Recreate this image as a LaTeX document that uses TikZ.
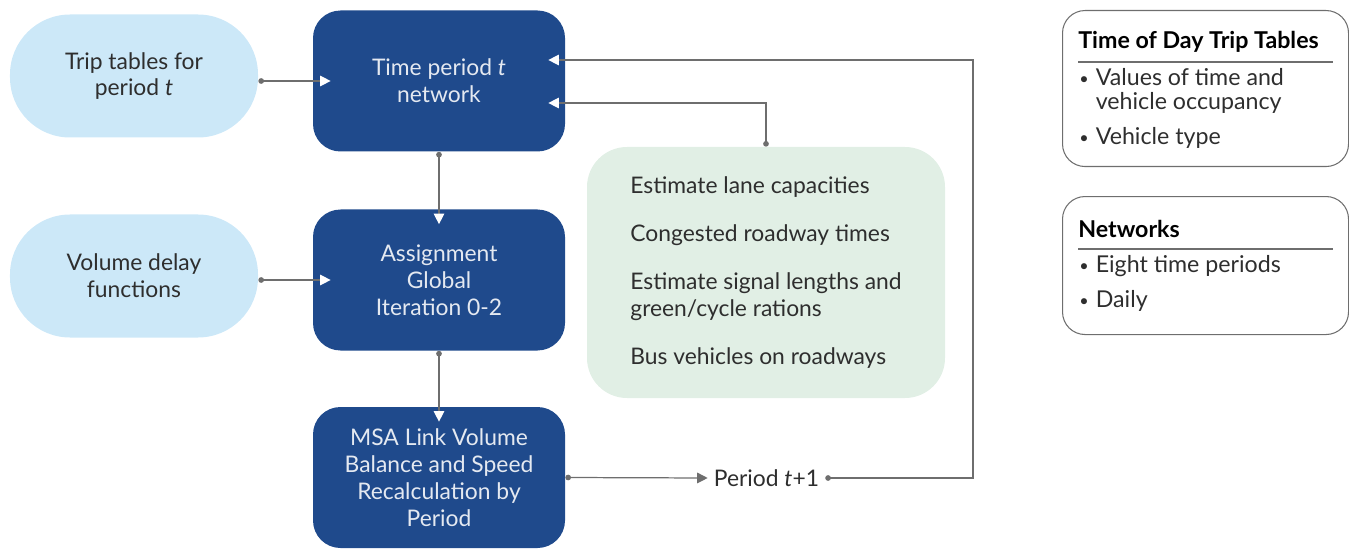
\documentclass[tikz,border=0pt]{standalone}
\usepackage{fontspec}
\setmainfont{Lato}
\usepackage{xcolor}
\usepackage{graphicx}
\usetikzlibrary{arrows.meta,positioning}

\definecolor{navybox}{HTML}{1F4A8C}
\definecolor{skypill}{HTML}{CCE8F8}
\definecolor{mintbox}{HTML}{E1EFE5}
\definecolor{linegray}{HTML}{6E6E6E}
\definecolor{inktext}{HTML}{2E2E2E}
\newcommand{\boxfont}{\fontsize{13}{15.3}\selectfont}
\newcommand{\sidefont}{\fontsize{13.2}{13.6}\selectfont}
\newcommand{\dotitem}{\raisebox{0.5pt}{\scalebox{0.7}{\textbullet}}}

\begin{document}
\begin{tikzpicture}[
    pill/.style={fill=skypill, rounded corners=1.2cm, minimum width=4.96cm,
      minimum height=2.46cm, align=center, text=inktext, font=\boxfont},
    stage/.style={fill=navybox, rounded corners=0.55cm, minimum width=5.04cm,
      minimum height=2.82cm, align=center, text=white!88!navybox, font=\boxfont},
    note/.style={fill=mintbox, rounded corners=0.8cm, minimum width=7.16cm,
      minimum height=5.02cm, align=left, text=inktext, font=\boxfont},
    sidebox/.style={draw=linegray, line width=0.6pt, rounded corners=0.45cm,
      minimum width=5.72cm, anchor=north west},
    sidehead/.style={anchor=west, inner sep=0pt, text=black, font=\sidefont\bfseries},
    sidelist/.style={anchor=west, inner sep=0pt, align=left, text=inktext, font=\sidefont},
    conn/.style={draw=linegray, line width=0.7pt},
    into/.style={conn, {Circle[length=3.2pt]}-{Triangle[length=6pt,width=6pt,color=white]}},
    onto/.style={conn, {Circle[length=3.2pt]}-{Triangle[length=6pt,width=6pt]}}
  ]
  \useasboundingbox (0,0) rectangle (26.98,10.96);

  % inputs
  \node[pill] (trip) at (2.68,9.44) {Trip tables for\\period \textit{t}};
  \node[pill] (vdf) at (2.68,5.44) {Volume delay\\functions};

  % assignment steps
  \node[stage] (timenet) at (8.78,9.34) {Time period \textit{t}\\network};
  \node[stage] (assign) at (8.78,5.36) {Assignment\\Global\\Iteration 0-2};
  \node[stage] (msa) at (8.78,1.41) {MSA Link Volume\\Balance and Speed\\Recalculation by\\Period};

  \node[note] (mint) at (15.32,5.51) {Estimate lane capacities\\[12pt]
    Congested roadway times\\[12pt]
    Estimate signal lengths and\\green/cycle rations\\[12pt]
    Bus vehicles on roadways};

  \node[text=inktext, font=\boxfont] (period) at (15.33,1.40) {Period \textit{t}+1};
  \coordinate (loop) at (19.46,1.40);

  % side legends
  \node[sidebox, minimum height=3.12cm] (tod) at (21.24,10.76) {};
  \node[sidehead] (todhead) at (21.56,10.12) {Time of Day Trip Tables};
  \draw[linegray, line width=0.6pt] (21.56,9.72) -- (26.66,9.72);
  \node[sidelist] (todlist) at (21.58,8.76) {\begin{tabular}{@{}l@{\hspace{4pt}}l@{}}
    \dotitem & Values of time and\\ & vehicle occupancy\\[5.7pt]
    \dotitem & Vehicle type\end{tabular}};

  \node[sidebox, minimum height=2.76cm] (nets) at (21.24,7.04) {};
  \node[sidehead] (netshead) at (21.56,6.38) {Networks};
  \draw[linegray, line width=0.6pt] (21.56,5.98) -- (26.66,5.98);
  \node[sidelist] (netslist) at (21.58,5.26) {\begin{tabular}{@{}l@{\hspace{4pt}}l@{}}
    \dotitem & Eight time periods\\[5.7pt]
    \dotitem & Daily\end{tabular}};

  % connectors
  \draw[into] (timenet.west -| trip.east) -- ([xshift=0.36cm]timenet.west);
  \draw[into] (assign.west -| vdf.east) -- ([xshift=0.36cm]assign.west);
  \draw[into] (timenet.south) -- ([yshift=-0.3cm]assign.north);
  \draw[into] (assign.south) -- ([yshift=-0.3cm]msa.north);
  \draw[onto] (msa.east) -- (period.west);
  \draw[into] (period.east) -- (loop) |- ([xshift=-0.34cm,yshift=0.42cm]timenet.east);
  \draw[into] (mint.north) |- ([xshift=-0.34cm,yshift=-0.44cm]timenet.east);
\end{tikzpicture}
\end{document}
